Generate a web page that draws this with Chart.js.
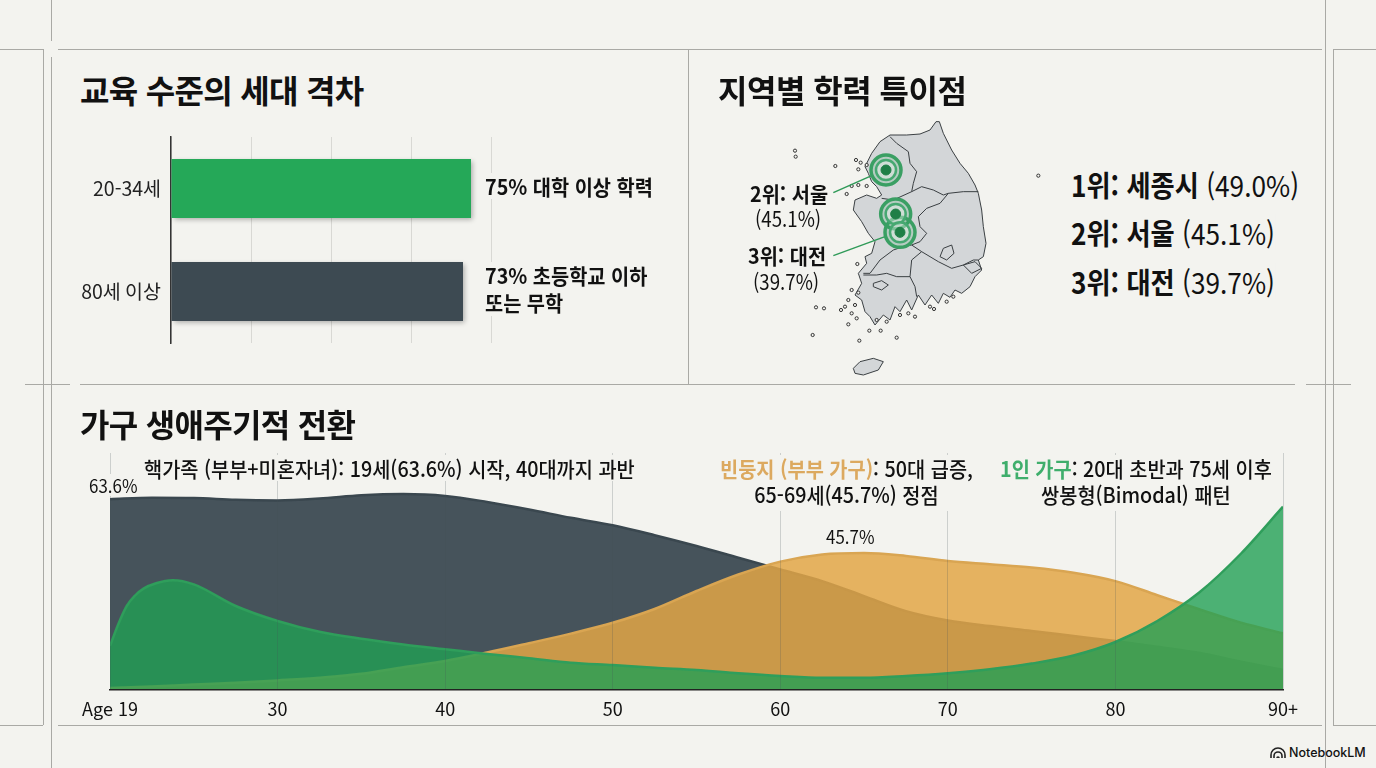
<!DOCTYPE html>
<html lang="ko">
<head>
<meta charset="utf-8">
<title>교육 수준의 세대 격차</title>
<script src="https://cdn.jsdelivr.net/npm/chart.js@4"></script>
<style>
  html, body { margin: 0; padding: 0; background: #f3f3ef; }
  body { position: relative; width: 1376px; height: 768px; overflow: hidden; font-family: "Noto Sans CJK KR", sans-serif; color: #111; }
  .line { position: absolute; background: #a9a9a5; }
  .box { position: absolute; }
  .box canvas { display: block; }
  .t { position: absolute; white-space: nowrap; background: #f3f3ef; transform-origin: left center; }
  .title { font-size: 32px; font-weight: 700; line-height: 40px; letter-spacing: -0.7px; }
  .note { font-size: 21px; font-weight: 500; line-height: 26px; transform: scaleX(0.94); }
  .rank { font-size: 29px; line-height: 36px; transform: scaleX(0.904); }
  .rank b, .map b { font-weight: 700; }
  .map { font-size: 21px; line-height: 25px; font-weight: 400; transform: scaleX(0.89); }
  .map.strong { transform: scaleX(0.94); }
  .small { font-size: 18px; line-height: 22px; transform: scaleX(0.94); }
  .orange { color: #dca95f; font-weight: 700; }
  .green { color: #3fae6c; font-weight: 700; }
</style>
</head>
<body>

<!-- frame lines -->
<div class="line" style="left:0;top:49px;width:43px;height:1px"></div>
<div class="line" style="left:58px;top:49px;width:1264px;height:1px"></div>
<div class="line" style="left:1333px;top:49px;width:43px;height:1px"></div>
<div class="line" style="left:0;top:725px;width:43px;height:1px"></div>
<div class="line" style="left:58px;top:725px;width:1264px;height:1px"></div>
<div class="line" style="left:1333px;top:725px;width:43px;height:1px"></div>
<div class="line" style="left:51px;top:0;width:1px;height:41px"></div>
<div class="line" style="left:51px;top:57px;width:1px;height:711px"></div>
<div class="line" style="left:1325px;top:0;width:1px;height:768px"></div>
<div class="line" style="left:43px;top:49px;width:1px;height:676px"></div>
<div class="line" style="left:1333px;top:49px;width:1px;height:676px"></div>
<div class="line" style="left:688px;top:49px;width:1px;height:335px"></div>
<div class="line" style="left:25px;top:384px;width:45px;height:1px"></div>
<div class="line" style="left:80px;top:384px;width:1215px;height:1px"></div>
<div class="line" style="left:1306px;top:384px;width:45px;height:1px"></div>

<div class="box" style="left:60px;top:130px"><canvas id="barChart"></canvas></div>
<div class="box" style="left:730px;top:110px"><canvas id="mapChart"></canvas></div>
<div class="box" style="left:60px;top:445px"><canvas id="areaChart"></canvas></div>

<div class="t title" style="left:80px;top:69px">교육 수준의 세대 격차</div>
<div class="t title" style="left:718px;top:69px;letter-spacing:-0.5px">지역별 학력 특이점</div>
<div class="t title" style="left:80px;top:403px">가구 생애주기적 전환</div>

<div class="t note" style="left:485px;top:173px;font-weight:700">75% 대학 이상 학력</div>
<div class="t note" style="left:485px;top:262px;font-weight:700;line-height:27px">73% 초등학교 이하<br>또는 무학</div>

<div class="t map strong" style="left:750px;top:181px"><b>2위: 서울</b></div>
<div class="t map" style="left:755px;top:206px">(45.1%)</div>
<div class="t map strong" style="left:748px;top:243px"><b>3위: 대전</b></div>
<div class="t map" style="left:753px;top:269px">(39.7%)</div>

<div class="t rank" style="left:1071px;top:166px"><b>1위: 세종시</b> (49.0%)</div>
<div class="t rank" style="left:1071px;top:214px"><b>2위: 서울</b> (45.1%)</div>
<div class="t rank" style="left:1071px;top:263px"><b>3위: 대전</b> (39.7%)</div>

<div class="t note" style="left:144px;top:455px">핵가족 (부부+미혼자녀): 19세(63.6%) 시작, 40대까지 과반</div>
<div class="t note" style="left:720px;top:455px;text-align:center;padding-bottom:4px"><span class="orange">빈둥지 (부부 가구)</span>: 50대 급증,<br>65-69세(45.7%) 정점</div>
<div class="t note" style="left:1000px;top:455px;text-align:center;padding-bottom:4px"><span class="green">1인 가구</span>: 20대 초반과 75세 이후<br>쌍봉형(Bimodal) 패턴</div>
<div class="t small" style="left:89px;top:474px">63.6%</div>
<div class="t small" style="left:826px;top:525px">45.7%</div>

<svg style="position:absolute;left:1270px;top:747px" width="16" height="12" viewBox="0 0 16 12" fill="none" stroke="#222" stroke-width="1.6">
  <path d="M1 11V8a7 7 0 0 1 14 0v3"/><path d="M4 11V9a4 4 0 0 1 8 0v2"/><path d="M7 11a1 1 0 0 1 2 0"/>
</svg>
<div class="t" style="left:1289px;top:744px;font:500 12.5px/18px Inter, sans-serif;background:none">NotebookLM</div>

<script>
// bar panel
const barLabels = ['20-34세', '80세 이상'];
const barValues = [75, 73];
const barColors = ['#25a858', '#3d4a52'];

// area panel, positions on the age axis (first position carries the "Age 19" label)
const ageTicks = { 20: 'Age 19', 30: '30', 40: '40', 50: '50', 60: '60', 70: '70', 80: '80', 90: '90+' };
const ages = [20, 22.5, 25, 27.5, 30, 32.5, 35, 37.5, 40, 42.5, 45, 47.5, 50, 52.5, 55, 57.5, 60, 62.5, 65, 67.5, 70, 72.5, 75, 77.5, 80, 82.5, 85, 87.5, 90];
const nuclearFamily = [63.6, 64.1, 64, 63.4, 63.2, 63.8, 64.9, 65.3, 64.7, 62.7, 60.2, 57.4, 54.9, 51.6, 48, 44.1, 40.2, 36.3, 31.3, 26.3, 23.2, 21.3, 19.7, 18, 16.3, 14.4, 12.4, 9.4, 6.7];
const emptyNest = [0.7, 1.2, 1.8, 2.4, 3.2, 4.1, 5.4, 7.6, 9.7, 12.5, 15.6, 18.8, 22.4, 27, 33, 38.5, 42.8, 45.2, 45.7, 44.7, 43, 41.9, 40.8, 39.1, 36.3, 31.6, 26.9, 22.4, 18.9];
const singleAges = [20, 20.5, 21, 21.5, 22, 22.75, 23.75, 25, 27.5, 30, 32.5, 35, 37.5, 40, 42.5, 45, 47.5, 50, 52.5, 55, 57.5, 60, 62.5, 65, 67.5, 70, 72.5, 75, 77.5, 80, 82.5, 85, 87.5, 90];
const singlePerson = [14.7, 22, 28, 31.5, 33.8, 35.6, 36.6, 35.2, 28, 23, 19.4, 17.1, 15.2, 13.6, 12, 10.6, 9.1, 8.3, 7.4, 6.7, 5.6, 4.7, 4.1, 4.1, 4.7, 5.6, 6.9, 8.8, 11.5, 16, 23, 32.5, 45.5, 61.1];

// map panel, traced outline in map units
const landOutline = [[425,130],[450,95],[480,75],[530,75],[570,72],[600,60],[618,35],[628,35],[640,70],[665,120],[690,160],[715,190],[735,225],[745,250],[755,300],[760,350],[768,400],[760,440],[745,450],[755,480],[735,500],[720,530],[695,550],[675,540],[660,562],[640,550],[625,580],[605,555],[585,585],[565,555],[545,600],[530,570],[510,605],[495,590],[480,630],[460,615],[435,645],[420,620],[405,605],[395,570],[375,555],[395,520],[385,490],[410,460],[405,440],[425,430],[435,395],[415,370],[395,335],[370,300],[375,270],[410,255],[440,265],[455,255],[440,230],[425,215],[415,190],[405,170],[425,130]];
const jejuOutline = [[370,775],[390,755],[430,745],[460,755],[445,780],[400,795],[375,790],[370,775]];
const provinceBorders = [
  [[480,80],[500,100],[535,125],[540,160],[560,185],[550,220],[545,245]],
  [[455,265],[490,270],[545,245],[575,230],[610,240],[640,255],[655,250],[700,245],[745,245]],
  [[655,250],[630,280],[590,295],[565,320],[570,350],[590,370],[570,395],[545,405]],
  [[545,405],[520,410],[490,420],[450,450],[420,490],[400,490]],
  [[545,405],[575,425],[600,440],[625,455],[665,475],[700,465],[730,450],[745,450]],
  [[575,425],[545,450],[540,500],[555,530],[560,560]],
  [[400,495],[440,495],[470,490],[500,500],[540,500]],
  [[630,440],[640,415],[665,405],[672,430],[650,450],[630,440]],
  [[700,465],[735,455],[755,475],[725,490],[700,465]],
  [[430,520],[455,512],[475,525],[455,540],[430,530],[430,520]]
];
const islands = [[195,122],[197,140],[925,197],[316,168],[378,150],[392,158],[410,165],[385,178],[365,228],[385,225],[410,228],[350,252],[382,462],[365,540],[385,548],[355,570],[375,585],[345,590],[365,610],[380,625],[355,643],[258,592],[282,595],[333,600],[418,662],[452,662],[248,675],[388,692],[500,683],[440,630],[470,635],[510,615],[535,610],[555,620],[612,597],[650,575],[670,560],[600,590]];
const cityPoints = [{ x: 468, y: 180 }, { x: 497, y: 312 }, { x: 510, y: 367 }];
const leaderLines = [[[310,248],[425,197]], [[310,437],[465,380]]];

const fontFamily = '"Noto Sans CJK KR", sans-serif';
const toXY = (pts) => pts.map((p) => ({ x: p[0], y: p[1] }));

// soft shadow under the bars
const barShadow = {
  id: 'barShadow',
  beforeDatasetsDraw(chart) {
    const ctx = chart.ctx;
    ctx.save();
    ctx.shadowColor = 'rgba(0,0,0,0.3)';
    ctx.shadowBlur = 5;
    ctx.shadowOffsetX = 2;
    ctx.shadowOffsetY = 2;
  },
  afterDatasetsDraw(chart) {
    chart.ctx.restore();
  }
};

function sizeCanvas(id, w, h) {
  const c = document.getElementById(id);
  c.parentNode.style.width = w + 'px';
  c.parentNode.style.height = h + 'px';
  return c;
}

document.addEventListener('DOMContentLoaded', function () {
  new Chart(sizeCanvas('barChart', 440, 220), {
    type: 'bar',
    data: {
      labels: barLabels,
      datasets: [{ data: barValues, backgroundColor: barColors, barPercentage: 0.573, categoryPercentage: 1 }]
    },
    plugins: [barShadow],
    options: {
      indexAxis: 'y',
      responsive: true,
      maintainAspectRatio: false,
      animation: false,
      layout: { autoPadding: false, padding: { top: 7, bottom: 7, right: 9 } },
      plugins: { legend: { display: false }, tooltip: { enabled: false } },
      scales: {
        x: {
          min: 0,
          max: 80,
          afterFit: (s) => { s.height = 0; s.paddingLeft = 0; s.paddingRight = 0; },
          ticks: { display: false, stepSize: 20 },
          border: { display: false },
          grid: { color: '#d8d8d4', drawTicks: false }
        },
        y: {
          afterFit: (s) => { s.width = 111; s.paddingTop = 0; s.paddingBottom = 0; },
          border: { color: '#333', width: 1.5 },
          grid: { display: false },
          ticks: { color: '#222', padding: 2, font: { family: fontFamily, size: 19.5 } }
        }
      }
    }
  });

  const mapDatasets = [];
  [landOutline, jejuOutline].forEach((o) => mapDatasets.push({
    data: toXY(o), showLine: true, fill: 'shape', backgroundColor: '#d3d6d8', borderColor: '#3a3f42', borderWidth: 1, pointRadius: 0
  }));
  provinceBorders.forEach((o) => mapDatasets.push({
    data: toXY(o), showLine: true, borderColor: '#3a3f42', borderWidth: 1, pointRadius: 0
  }));
  mapDatasets.push({ data: toXY(islands), pointRadius: 1.6, backgroundColor: '#f3f3ef', borderColor: '#333', borderWidth: 1 });
  leaderLines.forEach((o) => mapDatasets.push({
    data: toXY(o), showLine: true, borderColor: '#2f9a58', borderWidth: 1.5, pointRadius: 0
  }));
  mapDatasets.push({ data: cityPoints, pointRadius: 15, backgroundColor: 'rgba(46,160,90,0.18)', borderColor: '#3a9f63', borderWidth: 3.5 });
  mapDatasets.push({ data: cityPoints, pointRadius: 10, backgroundColor: 'rgba(255,255,255,0.35)', borderColor: '#46a871', borderWidth: 2.5 });
  mapDatasets.push({ data: cityPoints, pointRadius: 5, backgroundColor: '#1f7f47', borderColor: '#1f7f47', borderWidth: 1 });

  new Chart(sizeCanvas('mapChart', 320, 270), {
    type: 'scatter',
    data: { datasets: mapDatasets.map((d, i) => Object.assign(d, { order: -i })) },
    options: {
      responsive: true,
      maintainAspectRatio: false,
      animation: false,
      layout: { autoPadding: false },
      plugins: { legend: { display: false }, tooltip: { enabled: false } },
      scales: {
        x: { display: false, min: 0, max: 960 },
        y: { display: false, min: 0, max: 810, reverse: true }
      }
    }
  });

  const area = (label, data, fill, line, order) => ({
    label, data, order, fill: 'origin', backgroundColor: fill, borderColor: line, borderWidth: 2.5,
    pointRadius: 0, cubicInterpolationMode: 'monotone'
  });
  const withAges = (xs, ys) => xs.map((x, i) => ({ x, y: ys[i] }));

  new Chart(sizeCanvas('areaChart', 1270, 275), {
    type: 'line',
    data: {
      datasets: [
        area('1인 가구', withAges(singleAges, singlePerson), 'rgba(34,160,85,0.8)', '#2f9e5b', 1),
        area('빈둥지 (부부 가구)', withAges(ages, emptyNest), 'rgba(226,166,70,0.85)', '#d9a552', 2),
        area('핵가족', withAges(ages, nuclearFamily), 'rgba(60,74,82,0.95)', '#3a474f', 3)
      ]
    },
    options: {
      responsive: true,
      maintainAspectRatio: false,
      animation: false,
      layout: { autoPadding: false, padding: { left: 50, right: 47, top: 8 } },
      plugins: { legend: { display: false }, tooltip: { enabled: false } },
      scales: {
        x: {
          type: 'linear',
          min: 20,
          max: 90,
          afterFit: (s) => { s.height = 30; },
          border: { color: '#222', width: 1.5, z: 2 },
          grid: { color: 'rgba(70,80,85,0.22)', z: 1, drawTicks: false },
          ticks: {
            stepSize: 10,
            padding: 8,
            maxRotation: 0,
            autoSkip: false,
            color: '#111',
            font: { family: fontFamily, size: 18 },
            callback: (v) => ageTicks[v]
          }
        },
        y: { display: false, min: 0, max: 79 }
      }
    }
  });
});
</script>
</body>
</html>
